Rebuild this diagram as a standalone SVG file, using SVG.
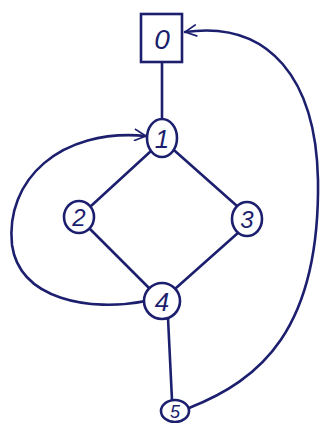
<svg xmlns="http://www.w3.org/2000/svg" width="327" height="423" viewBox="0 0 327 423">
<style>
.s{fill:none;stroke:#1c1f6e;stroke-width:2.6;stroke-linecap:round;stroke-linejoin:round}
.n{fill:#fff;stroke:#1c1f6e;stroke-width:2.6}
.t{font-family:"Liberation Sans",sans-serif;font-style:italic;fill:#1c1f6e;text-anchor:middle}
</style>
<defs>
<marker id="ah" viewBox="0 0 20 20" refX="19" refY="10" markerWidth="13" markerHeight="13" orient="auto" markerUnits="userSpaceOnUse">
<path d="M1,1 L19,10 L1,19" fill="none" stroke="#1c1f6e" stroke-width="2.6"/>
</marker>
</defs>
<rect width="327" height="423" fill="#fff"/>
<g id="edges">
<path class="s" d="M162,63 L162,119"/>
<path class="s" d="M151,151 L91,206"/>
<path class="s" d="M175,151 L237,206"/>
<path class="s" d="M90,229 L150,289"/>
<path class="s" d="M239,232 L176,288"/>
<path class="s" d="M168,318 L172,400"/>
<path class="s" d="M146,301 C90,312 20,300 12,245 C5,180 60,128 146,136" marker-end="url(#ah)"/>
<path class="s" d="M189,408 C260,380 320,330 318,180 C316,80 270,20 185,32" marker-end="url(#ah)"/>
</g>
<g id="node0"><rect class="n" x="141" y="14" width="41" height="48"/><text class="t" x="162" y="49" font-size="28">0</text></g>
<g id="node1"><ellipse class="n" cx="162" cy="138" rx="15" ry="19"/><text class="t" x="162" y="148" font-size="26">1</text></g>
<g id="node2"><ellipse class="n" cx="79" cy="217" rx="15" ry="16"/><text class="t" x="79" y="226" font-size="24">2</text></g>
<g id="node3"><ellipse class="n" cx="247" cy="219" rx="15" ry="17"/><text class="t" x="247" y="228" font-size="24">3</text></g>
<g id="node4"><ellipse class="n" cx="162" cy="301" rx="18" ry="18"/><text class="t" x="162" y="311" font-size="26">4</text></g>
<g id="node5"><ellipse class="n" cx="175" cy="411" rx="14" ry="11"/><text class="t" x="175" y="418" font-size="18">5</text></g>
</svg>
